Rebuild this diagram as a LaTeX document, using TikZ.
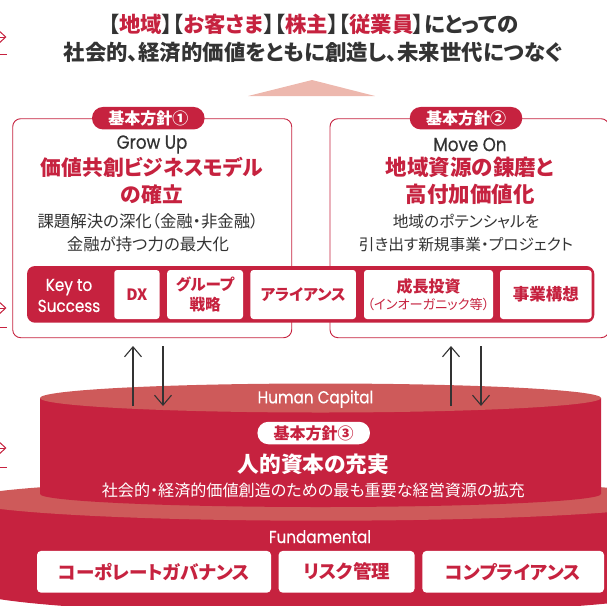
\documentclass[tikz,border=0pt]{standalone}
\usepackage{fontspec}
\usetikzlibrary{arrows.meta,shapes.geometric}
\setmainfont{Noto Sans CJK JP}[RawFeature={+palt}]
\newfontfamily\latinf{Poppins}[FakeStretch=0.88,FakeBold=0.4]
\definecolor{brandred}{HTML}{C6223F}
\definecolor{softred}{HTML}{CE5A5A}
\definecolor{paleapex}{HTML}{EDB8AE}
\definecolor{ink}{HTML}{333333}
\tikzset{
  x=1pt,y=-1pt,
  inkline/.style={draw=ink,line width=1.1pt,-{Straight Barb[length=10pt,width=17pt,line width=1.1pt]}},
  markarrow/.style={draw=brandred,line width=1pt,-{Straight Barb[length=6pt,width=11pt,line width=1pt]}},
  markline/.style={draw=brandred,line width=1pt},
  panel/.style={draw=brandred,line width=.9pt,rounded corners=8pt,fill=white},
  badge/.style={fill=brandred,text=white,rounded corners=11pt,minimum width=112.5pt,minimum height=22.5pt,inner sep=0pt,font=\fontsize{16}{16}\selectfont\bfseries},
  badgeW/.style={badge,fill=white,text=brandred},
  wbox/.style={fill=white,rounded corners=3pt,inner sep=0pt,text=brandred,align=center,font=\fontsize{15.6}{20}\selectfont\bfseries},
  fbox/.style={wbox,rounded corners=4pt,font=\fontsize{18.5}{20}\selectfont\bfseries,minimum height=41.7pt},
  tbox/.style={inner sep=0pt,align=center},
  head/.style={tbox,text=brandred,font=\fontsize{21}{27}\selectfont\bfseries},
  bodytext/.style={tbox,text=ink,font=\fontsize{16.4}{23}\selectfont},
  latin/.style={tbox,font=\latinf\fontsize{17.3}{21}\selectfont},
  latinbig/.style={tbox,text=ink,font=\latinf\fontsize{19}{22}\selectfont},
  title/.style={tbox,text=ink,font=\fontsize{21.4}{27}\selectfont\bfseries},
}
\newcommand{\rd}[1]{\textcolor{brandred}{#1}}
\begin{document}
\begin{tikzpicture}
\useasboundingbox (0,0) rectangle (607,605);
% edge marks
\foreach \n/\yy in {a/37,b/308,c/448}{
  \coordinate (m\n s) at (-6,\yy);
  \coordinate (m\n e) at (6.5,\yy);
  \draw[markarrow] (m\n s) -- (m\n e);
}
\foreach \n/\yy in {a/54,b/327,c/467}{
  \coordinate (l\n s) at (-2,\yy);
  \coordinate (l\n e) at (6.5,\yy);
  \draw[markline] (l\n s) -- (l\n e);
}
% title
\node[title] (t1) at (313.5,24) {【\rd{地域}】【\rd{お客さま}】【\rd{株主}】【\rd{従業員}】にとっての};
\node[title] (t2) at (313,52) {社会的、経済的価値をともに創造し、未来世代につなぐ};
\fill[paleapex] (248,96) -- (312,80) -- (375,96) -- cycle;
% lower cylinder
\fill[brandred] (-35,500) -- (-35,588) arc[start angle=180,end angle=0,x radius=356,y radius=26] -- (677,500) -- cycle;
\fill[softred] (321,500) ellipse[x radius=356,y radius=20.7];
% upper cylinder
\fill[brandred] (40,398) -- (40,494) arc[start angle=180,end angle=0,x radius=280.5,y radius=13] -- (601,398) -- cycle;
\fill[softred] (320.5,398) ellipse[x radius=280.5,y radius=14.5];
% panels
\draw[panel] (12.7,118.7) rectangle (291.7,337.7);
\draw[panel] (330,118.7) rectangle (609,337.7);
\node[badge] (b1) at (148.3,118.2) {基本方針①};
\node[badge] (b2) at (466,118.2) {基本方針②};
\node[latinbig] (g1) at (152,144.5) {Grow Up};
\node[latinbig] (g2) at (470,144.5) {Move On};
\node[head,font=\fontsize{20.8}{27}\selectfont\bfseries] (h1) at (152,180.5) {価値共創ビジネスモデル\\の確立};
\node[head,font=\fontsize{21.5}{27}\selectfont\bfseries] (h2) at (470,181) {地域資源の錬磨と\\高付加価値化};
\node[bodytext] (d1) at (148,232.5) {課題解決の深化（金融・非金融）\\金融が持つ力の最大化};
\node[bodytext,font=\fontsize{15.7}{23}\selectfont] (d2) at (466,232.5) {地域のポテンシャルを\\引き出す新規事業・プロジェクト};
% key bar
\fill[brandred,rounded corners=8pt] (27,266) rectangle (594.3,322.7);
\node[latin,text=white] (key) at (69,295.5) {Key to\\Success};
\node[wbox,minimum width=45.3pt,minimum height=49pt] (dx) at (136.9,294.5) {DX};
\node[wbox,minimum width=75.8pt,minimum height=49pt] (gr) at (205.1,294.5) {グループ\\戦略};
\node[wbox,minimum width=105.5pt,minimum height=49pt] (al) at (303.2,294.5) {アライアンス};
\node[wbox,minimum width=129pt,minimum height=49pt] (gi) at (428.5,294.5) {{\fontsize{16}{20}\selectfont 成長投資}\\[-3pt]{\mdseries\fontsize{13.2}{15}\selectfont（インオーガニック等）}};
\node[wbox,font=\fontsize{16.5}{20}\selectfont\bfseries,minimum width=91.6pt,minimum height=49pt] (jk) at (545.8,294.5) {事業構想};
% arrows
\coordinate (u1s) at (133,406); \coordinate (u1e) at (133,346);
\coordinate (d1s) at (163,346); \coordinate (d1e) at (163,406);
\coordinate (u2s) at (451,406); \coordinate (u2e) at (451,346);
\coordinate (d2s) at (481,346); \coordinate (d2e) at (481,406);
\draw[inkline] (u1s) -- (u1e);
\draw[inkline] (d1s) -- (d1e);
\draw[inkline] (u2s) -- (u2e);
\draw[inkline] (d2s) -- (d2e);
% human capital
\node[latin,text=white] (hc) at (315.5,399) {Human Capital};
\node[badgeW] (b3) at (313.7,433) {基本方針③};
\node[tbox,text=white,font=\fontsize{21.7}{25}\selectfont\bfseries] (hn) at (313.5,464) {人的資本の充実};
\node[tbox,text=white,font=\fontsize{16.1}{20}\selectfont] (hd) at (313.3,490.7) {社会的・経済的価値創造のための最も重要な経営資源の拡充};
% fundamental
\node[latin,text=white] (fu) at (320,536.7) {Fundamental};
\node[fbox,minimum width=234pt] (cg) at (154,571.8) {コーポレートガバナンス};
\node[fbox,minimum width=135.9pt] (rk) at (346.6,571.8) {リスク管理};
\node[fbox,minimum width=181.6pt] (cp) at (513.2,571.8) {コンプライアンス};
\end{tikzpicture}
\end{document}
